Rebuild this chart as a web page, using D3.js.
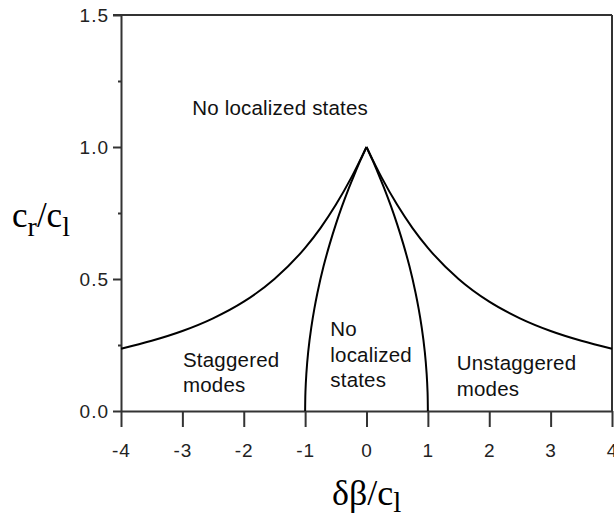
<!DOCTYPE html>
<html>
<head>
<meta charset="utf-8">
<script src="https://cdn.jsdelivr.net/npm/d3@7"></script>
<style>
  body { margin: 0; background: #fff; }
</style>
</head>
<body>
<div id="chart"></div>
<script>
// tick values
const xTicks = [-4, -3, -2, -1, 0, 1, 2, 3, 4];
const yTicks = [0.0, 0.5, 1.0, 1.5];
const yMinorTicks = [0.25, 0.75, 1.25];

// outer boundary, left half (staggered modes) and right half (unstaggered modes)
const outerLeftX = [-4, -3.5, -3, -2.5, -2, -1.5, -1, -0.75, -0.5, -0.25, 0];
const outerLeftY = [0.236, 0.266, 0.303, 0.351, 0.414, 0.5, 0.618, 0.693, 0.781, 0.883, 1.0];
const outerRightX = [0, 0.25, 0.5, 0.75, 1, 1.5, 2, 2.5, 3, 3.5, 4];
const outerRightY = [1.0, 0.883, 0.781, 0.693, 0.618, 0.5, 0.414, 0.351, 0.303, 0.266, 0.236];

// inner boundaries (central region without localized states)
const innerLeftX = [0, -0.1, -0.2, -0.3, -0.4, -0.5, -0.6, -0.7, -0.8, -0.85, -0.9, -0.95, -0.98, -0.995, -1.0];
const innerLeftY = [1.0, 0.949, 0.894, 0.837, 0.775, 0.707, 0.632, 0.548, 0.447, 0.387, 0.316, 0.224, 0.141, 0.071, 0.0];
const innerRightX = [0, 0.1, 0.2, 0.3, 0.4, 0.5, 0.6, 0.7, 0.8, 0.85, 0.9, 0.95, 0.98, 0.995, 1.0];
const innerRightY = [1.0, 0.949, 0.894, 0.837, 0.775, 0.707, 0.632, 0.548, 0.447, 0.387, 0.316, 0.224, 0.141, 0.071, 0.0];

// region labels
const regionText = [
    ["No localized states"],
    ["Staggered", "modes"],
    ["No", "localized", "states"],
    ["Unstaggered", "modes"]
];

const width = 614, height = 517;
const margin = {top: 15, right: 2, bottom: 106, left: 121};

const svg = d3.select("#chart").append("svg")
    .attr("width", width)
    .attr("height", height);

const xScale = d3.scaleLinear().domain([-4, 4]).range([margin.left, width - margin.right]);
const yScale = d3.scaleLinear().domain([0, 1.5]).range([height - margin.bottom, margin.top]);

const axisColor = "#333";
const sansFont = "Liberation Sans, Arial, sans-serif";
const serifFont = "Liberation Serif, Times New Roman, serif";

// frame (top + right)
svg.append("line")
    .attr("x1", xScale(-4) - 8).attr("x2", xScale(4))
    .attr("y1", yScale(1.5)).attr("y2", yScale(1.5))
    .attr("stroke", axisColor).attr("stroke-width", 2);
svg.append("line")
    .attr("x1", xScale(4)).attr("x2", xScale(4))
    .attr("y1", yScale(1.5)).attr("y2", yScale(0))
    .attr("stroke", axisColor).attr("stroke-width", 2);

// x axis
const xAxis = d3.axisBottom(xScale)
    .tickValues(xTicks)
    .tickFormat(d => String(d))
    .tickSize(16)
    .tickSizeOuter(0)
    .tickPadding(17);
const xAxisGroup = svg.append("g")
    .attr("transform", `translate(0, ${yScale(0)})`)
    .call(xAxis);

// y axis
const yAxis = d3.axisLeft(yScale)
    .tickValues(yTicks)
    .tickFormat(d3.format(".1f"))
    .tickSize(8)
    .tickSizeOuter(0)
    .tickPadding(4);
const yAxisGroup = svg.append("g")
    .attr("transform", `translate(${xScale(-4)}, 0)`)
    .call(yAxis);

const yMinorGroup = svg.append("g")
    .attr("transform", `translate(${xScale(-4)}, 0)`)
    .call(d3.axisLeft(yScale).tickValues(yMinorTicks).tickFormat("").tickSize(3).tickSizeOuter(0));
yMinorGroup.select(".domain").remove();

[xAxisGroup, yAxisGroup, yMinorGroup].forEach(g => {
    g.select(".domain").attr("stroke", axisColor).attr("stroke-width", 2);
    g.selectAll(".tick line").attr("stroke", axisColor).attr("stroke-width", 2);
    g.selectAll(".tick text")
        .attr("fill", "#222")
        .style("font-family", sansFont)
        .style("font-size", "19px")
        .style("letter-spacing", "1px");
});

// curves
const lineX = d3.line()
    .x(d => xScale(d[0]))
    .y(d => yScale(d[1]))
    .curve(d3.curveMonotoneX);

const lineY = d3.line()
    .x(d => xScale(d[0]))
    .y(d => yScale(d[1]))
    .curve(d3.curveMonotoneY);

const curves = [
    {pts: d3.zip(outerLeftX, outerLeftY), gen: lineX},
    {pts: d3.zip(outerRightX, outerRightY), gen: lineX},
    {pts: d3.zip(innerLeftX, innerLeftY), gen: lineY},
    {pts: d3.zip(innerRightX, innerRightY), gen: lineY}
];

svg.selectAll(".curve")
    .data(curves)
    .join("path")
    .attr("class", "curve")
    .attr("fill", "none")
    .attr("stroke", "#000")
    .attr("stroke-width", 2)
    .attr("d", d => d.gen(d.pts));

// region labels: anchor in data space
const labelAnchors = [
    {x: -2.84, y: 1.121},
    {x: -2.99, y: 0.167},
    {x: -0.59, y: 0.284},
    {x: 1.47, y: 0.155}
];
const lineStep = 25.5;

regionText.forEach((lines, i) => {
    const t = svg.append("text")
        .attr("x", xScale(labelAnchors[i].x))
        .attr("y", yScale(labelAnchors[i].y))
        .attr("fill", "#111")
        .style("font-family", sansFont)
        .style("font-size", "20.5px")
        .style("letter-spacing", "0.2px");
    lines.forEach((s, j) => {
        t.append("tspan")
            .attr("x", xScale(labelAnchors[i].x))
            .attr("dy", j === 0 ? 0 : lineStep)
            .text(s);
    });
});

// axis titles
const xTitle = svg.append("text")
    .attr("x", 332)
    .attr("y", 505)
    .style("font-family", serifFont)
    .style("font-size", "36px");
xTitle.append("tspan").text("δβ/c");
xTitle.append("tspan").attr("dy", 7).style("font-size", "29px").text("l");

const yTitle = svg.append("text")
    .attr("x", 12)
    .attr("y", 227)
    .style("font-family", serifFont)
    .style("font-size", "35px");
yTitle.append("tspan").text("c");
yTitle.append("tspan").attr("dy", 9).style("font-size", "28px").text("r");
yTitle.append("tspan").attr("dy", -9).text("/c");
yTitle.append("tspan").attr("dy", 9).style("font-size", "28px").text("l");
</script>
</body>
</html>
